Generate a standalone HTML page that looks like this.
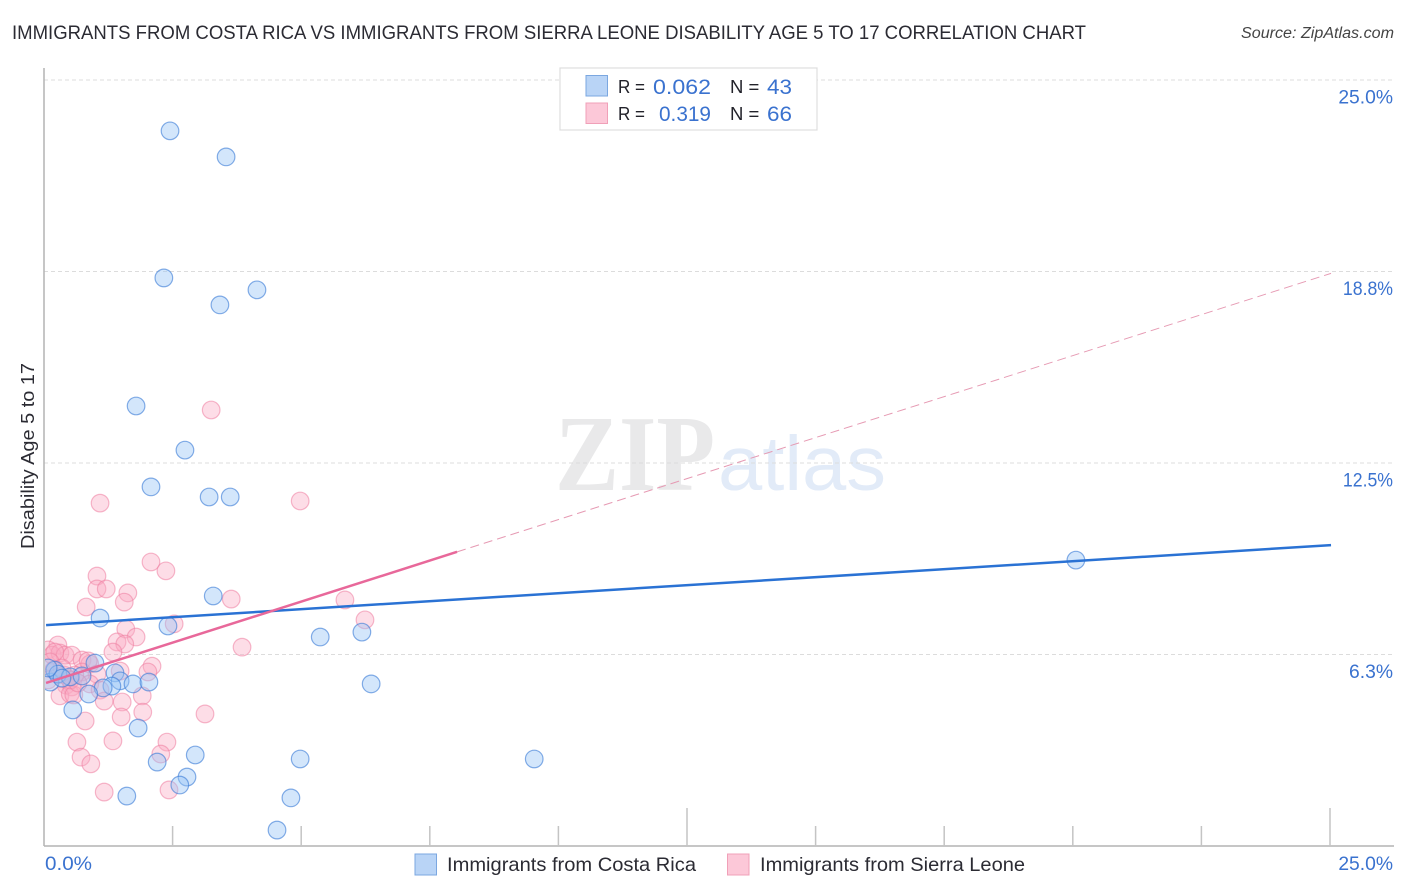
<!DOCTYPE html>
<html lang="en">
<head>
<meta charset="utf-8">
<title>Disability Age 5 to 17 Correlation Chart</title>
<style>
html,body{margin:0;padding:0;background:#fff;width:1406px;height:892px;overflow:hidden}
svg{display:block;font-family:"Liberation Sans",sans-serif}
</style>
</head>
<body>
<svg id="chart" xmlns="http://www.w3.org/2000/svg" width="1406" height="892" viewBox="0 0 1406 892">
  <defs>
    <clipPath id="plot-clip"><rect x="45" y="60" width="1349" height="786"/></clipPath>
  </defs>
  <text x="12" y="39" font-size="19.5" fill="#2b2b33" textLength="1074" lengthAdjust="spacingAndGlyphs">IMMIGRANTS FROM COSTA RICA VS IMMIGRANTS FROM SIERRA LEONE DISABILITY AGE 5 TO 17 CORRELATION CHART</text>
  <text x="1241" y="38" font-size="15.5" font-style="italic" fill="#444" textLength="153" lengthAdjust="spacingAndGlyphs">Source: ZipAtlas.com</text>
  <g id="watermark">
    <text x="555" y="490" font-family="'Liberation Serif',serif" font-weight="bold" font-size="108" fill="#e9e9ea" textLength="160" lengthAdjust="spacingAndGlyphs">ZIP</text>
    <text x="718" y="490" font-size="77" fill="#e2ebf8" textLength="168" lengthAdjust="spacingAndGlyphs">atlas</text>
  </g>
  <g id="grid"></g>
  <g id="axes">
    <line x1="44" y1="68" x2="44" y2="846" stroke="#b4b4b4" stroke-width="1.5"/>
    <line x1="44" y1="846" x2="1394" y2="846" stroke="#b4b4b4" stroke-width="1.5"/>
  </g>
  <g id="x-ticks"></g>
  <g id="pink-points" clip-path="url(#plot-clip)"></g>
  <g id="blue-points" clip-path="url(#plot-clip)"></g>
  <g id="trends"></g>
  <g id="y-labels"></g>
  <g id="x-labels"></g>
  <text transform="translate(34,549) rotate(-90)" font-size="18.5" fill="#2b2b33" textLength="186" lengthAdjust="spacingAndGlyphs">Disability Age 5 to 17</text>

  <g>
    <rect x="560" y="68" width="257" height="62" fill="#fff" stroke="#dedede" stroke-width="1.2"/>
    <rect x="586" y="75.5" width="21.5" height="20.5" fill="#b9d4f6" stroke="#7ba7e0" stroke-width="1"/>
    <rect x="586" y="103" width="21.5" height="20.5" fill="#fcc8d8" stroke="#f0a0b8" stroke-width="1"/>
    <text x="618" y="93" font-size="18.5" fill="#22222a" textLength="27" lengthAdjust="spacingAndGlyphs">R =</text>
    <text x="653" y="94" font-size="21.5" fill="#3a72cf" textLength="58" lengthAdjust="spacingAndGlyphs">0.062</text>
    <text x="730" y="93" font-size="18.5" fill="#22222a">N =</text>
    <text x="767" y="94" font-size="21.5" fill="#3a72cf" textLength="25" lengthAdjust="spacingAndGlyphs">43</text>
    <text x="618" y="120" font-size="18.5" fill="#22222a" textLength="27" lengthAdjust="spacingAndGlyphs">R =</text>
    <text x="659" y="121" font-size="21.5" fill="#3a72cf" textLength="52" lengthAdjust="spacingAndGlyphs">0.319</text>
    <text x="730" y="120" font-size="18.5" fill="#22222a">N =</text>
    <text x="767" y="121" font-size="21.5" fill="#3a72cf" textLength="25" lengthAdjust="spacingAndGlyphs">66</text>
  </g>

  <g>
    <rect x="415" y="854" width="21.5" height="21" fill="#b9d4f6" stroke="#7ba7e0" stroke-width="1"/>
    <text x="447" y="871" font-size="19.5" fill="#2b2b33" textLength="249" lengthAdjust="spacingAndGlyphs">Immigrants from Costa Rica</text>
    <rect x="727.5" y="854" width="21.5" height="21" fill="#fcc8d8" stroke="#f0a0b8" stroke-width="1"/>
    <text x="760" y="871" font-size="19.5" fill="#2b2b33" textLength="265" lengthAdjust="spacingAndGlyphs">Immigrants from Sierra Leone</text>
  </g>
</svg>
<script>
const yTickValues = [25, 18.75, 12.5, 6.25];
const yTickLabels = ["25.0%", "18.8%", "12.5%", "6.3%"];
const xTickValues = [2.5, 5, 7.5, 10, 12.5, 15, 17.5, 20, 22.5, 25];
const xEndLabels = ["0.0%", "25.0%"];
const blueX = [2.45,3.54,2.33,4.14,3.42,1.79,2.74,2.08,3.21,3.62,20.06,3.29,1.09,2.41,5.37,6.18,6.36,0.99,1.38,1.48,1.73,2.04,1.32,1.15,0.87,0.56,1.83,2.94,2.20,2.78,2.64,1.61,4.80,4.53,4.98,9.53,0.12,0.21,0.27,0.51,0.74,0.35,0.08];
const blueY = [23.34,22.49,18.54,18.15,17.66,14.36,12.92,11.72,11.39,11.39,9.33,8.16,7.44,7.18,6.82,6.98,5.29,5.97,5.65,5.39,5.29,5.35,5.22,5.16,4.96,4.44,3.85,2.97,2.74,2.25,1.99,1.63,1.57,0.52,2.84,2.84,5.35,5.74,5.61,5.52,5.55,5.48,5.81];
const pinkX = [3.25,1.09,4.98,2.08,2.37,1.03,1.03,1.21,1.63,1.56,3.64,5.85,0.82,6.24,1.59,2.53,1.79,1.42,1.57,3.85,1.34,0.27,0.08,0.16,0.31,0.41,0.54,0.74,0.89,0.86,2.10,2.02,1.03,1.48,0.74,0.60,0.39,0.43,0.54,0.89,1.09,0.31,0.51,0.58,1.91,1.17,1.52,1.92,3.13,1.50,0.80,0.64,1.34,2.39,2.27,0.72,0.91,1.17,2.43,0.21,0.12,0.35,0.19,0.51,0.66,0.08];
const pinkY = [14.23,11.19,11.26,9.27,8.98,8.81,8.39,8.39,8.26,7.96,8.06,8.03,7.80,7.38,7.08,7.25,6.82,6.66,6.59,6.49,6.33,6.56,6.40,6.23,6.30,6.23,6.23,6.07,5.94,6.04,5.87,5.68,5.61,5.71,5.68,5.58,5.58,5.25,5.19,5.29,5.09,4.90,4.96,4.93,4.90,4.73,4.70,4.37,4.31,4.21,4.08,3.39,3.43,3.39,3.00,2.90,2.68,1.76,1.83,6.33,6.01,5.81,5.74,5.42,5.32,5.42];
const blueTrendX = [0.04, 25.02];
const blueTrendY = [7.21, 9.82];
const pinkTrendX = [0.04, 8.03];
const pinkTrendY = [5.32, 9.60];
const pinkTrendDashX = [8.03, 25.02];
const pinkTrendDashY = [9.60, 18.69];

const NS = "http://www.w3.org/2000/svg";
function sx(v){ return 44 + v * 51.44; }
function sy(v){ return 846 - v * 30.64; }
function make(tag, attrs, parent){
  const el = document.createElementNS(NS, tag);
  for (const k in attrs) el.setAttribute(k, attrs[k]);
  parent.appendChild(el);
  return el;
}
function fitLabel(t, label){
  const ones = label.split("1").length - 1;
  const full = t.getComputedTextLength();
  if (ones > 0) {
    t.setAttribute("textLength", full - 4.6 * ones);
    t.setAttribute("lengthAdjust", "spacingAndGlyphs");
  }
}

const grid = document.getElementById("grid");
const yLabels = document.getElementById("y-labels");
yTickValues.forEach(function(v, i){
  const ln = make("line", {x1:44, x2:1394, y1:sy(v), y2:sy(v), stroke:"#dcdcdc", "stroke-width":1, "stroke-dasharray":"4 3"}, grid);
  
  
  const t = make("text", {x:1393, y:sy(v)+23.5, "font-size":19.3, fill:"#3a72cf", "text-anchor":"end"}, yLabels);
  t.textContent = yTickLabels[i];
  
  
  fitLabel(t, yTickLabels[i]);
});

const xTicks = document.getElementById("x-ticks");
xTickValues.forEach(function(v, i){
  const major = (i === 4 || i === 9) ? 808 : 826;
  const ln = make("line", {x1:sx(v), x2:sx(v), y1:major, y2:846, stroke:"#c4c4c4", "stroke-width":1.5}, xTicks);
  
  
});

const xLabels = document.getElementById("x-labels");
const xl0 = make("text", {x:45, y:870, "font-size":19.8, fill:"#3a72cf", textLength:47, lengthAdjust:"spacingAndGlyphs"}, xLabels);
xl0.textContent = xEndLabels[0];


const xl1 = make("text", {x:1393, y:870, "font-size":19.3, fill:"#3a72cf", "text-anchor":"end"}, xLabels);
xl1.textContent = xEndLabels[1];



const pinkG = document.getElementById("pink-points");
pinkX.forEach(function(v, i){
  const c = make("circle", {cx:sx(v), cy:sy(pinkY[i]), r:8.8, fill:"rgba(250,170,195,0.4)", stroke:"rgba(238,125,160,0.55)", "stroke-width":1.2}, pinkG);
  
  
});
const blueG = document.getElementById("blue-points");
blueX.forEach(function(v, i){
  const c = make("circle", {cx:sx(v), cy:sy(blueY[i]), r:8.8, fill:"rgba(150,195,245,0.42)", stroke:"rgba(60,125,215,0.62)", "stroke-width":1.2}, blueG);
  
  
});

const trends = document.getElementById("trends");
const dash = make("line", {x1:sx(pinkTrendDashX[0]), y1:sy(pinkTrendDashY[0]), x2:sx(pinkTrendDashX[1]), y2:sy(pinkTrendDashY[1]), stroke:"#e69ab3", "stroke-width":1, "stroke-dasharray":"9 5"}, trends);


const blueLine = make("line", {x1:sx(blueTrendX[0]), y1:sy(blueTrendY[0]), x2:sx(blueTrendX[1]), y2:sy(blueTrendY[1]), stroke:"#2a72d4", "stroke-width":2.5}, trends);


const pinkLine = make("line", {x1:sx(pinkTrendX[0]), y1:sy(pinkTrendY[0]), x2:sx(pinkTrendX[1]), y2:sy(pinkTrendY[1]), stroke:"#e8689a", "stroke-width":2.5}, trends);


</script>
</body>
</html>
